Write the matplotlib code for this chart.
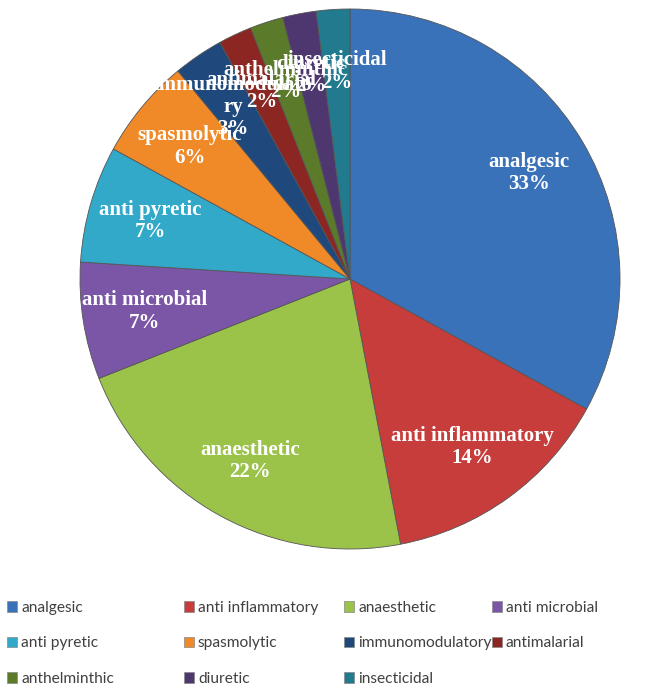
import matplotlib
matplotlib.use("Agg")
import matplotlib.pyplot as plt
from matplotlib.patches import Patch
from matplotlib import font_manager
import numpy as np

categories = ["analgesic", "anti inflammatory", "anaesthetic", "anti microbial",
              "anti pyretic", "spasmolytic", "immunomodulatory", "antimalarial",
              "anthelminthic", "diuretic", "insecticidal"]
percent = [33, 14, 22, 7, 7, 6, 3, 2, 2, 2, 2]
colors = ["#3A72B9", "#C63D3B", "#9BC34A", "#7B56A6", "#33A9C9", "#F08A28",
          "#1F497D", "#8B2623", "#5B7B2A", "#4E366F", "#227A8E"]

W, H = 663, 689

def wrap_label(s, n=14):
    # excel wraps long single words inside the slice
    if len(s) > n and " " not in s:
        return s[:n] + "\n" + s[n:]
    return s

# narrow font for the legend if there is one (calibri-ish look)
legend_font, legend_size = "Lato", 11.2
try:
    font_manager.findfont("Liberation Sans Narrow", fallback_to_default=False)
    legend_font, legend_size = "Liberation Sans Narrow", 12.5
except Exception:
    pass

fig = plt.figure(figsize=(W/100, H/100), dpi=100)
ax = fig.add_axes([80/W, (H-549)/H, 540/W, 540/H])

wedges, _ = ax.pie(percent, colors=colors, startangle=90, counterclock=False,
                   radius=1.0, wedgeprops=dict(edgecolor="#555555", linewidth=0.6))
ax.set_xlim(-1.0, 1.0)
ax.set_ylim(-1.0, 1.0)
ax.set_aspect("equal")
ax.axis("off")

for w, name, p in zip(wedges, categories, percent):
    th = np.deg2rad((w.theta1 + w.theta2) / 2)
    r = 0.77
    ax.text(r*np.cos(th), r*np.sin(th), wrap_label(name) + "\n" + "%d%%" % p,
            ha="center", va="center", color="white", fontsize=15,
            fontweight="bold", family="Liberation Serif", linespacing=1.15)

# legend: 4 fixed-width columns like excel, filled row by row
col_x = [8, 185, 345, 493]
ncol = 4
for c in range(ncol):
    idx = list(range(c, len(categories), ncol))
    handles = [Patch(facecolor=colors[i], edgecolor="#888888", linewidth=0.5) for i in idx]
    labels = [categories[i] for i in idx]
    fig.legend(handles, labels, loc="upper left",
               bbox_to_anchor=((col_x[c] - 1) / W, 1 - 601 / H),
               frameon=False, prop=dict(family=legend_font, size=legend_size),
               labelcolor="#404040",
               handlelength=0.65, handleheight=0.65, handletextpad=0.25,
               labelspacing=1.38, borderpad=0, borderaxespad=0)

fig.savefig("out.png", dpi=100, facecolor="white")
